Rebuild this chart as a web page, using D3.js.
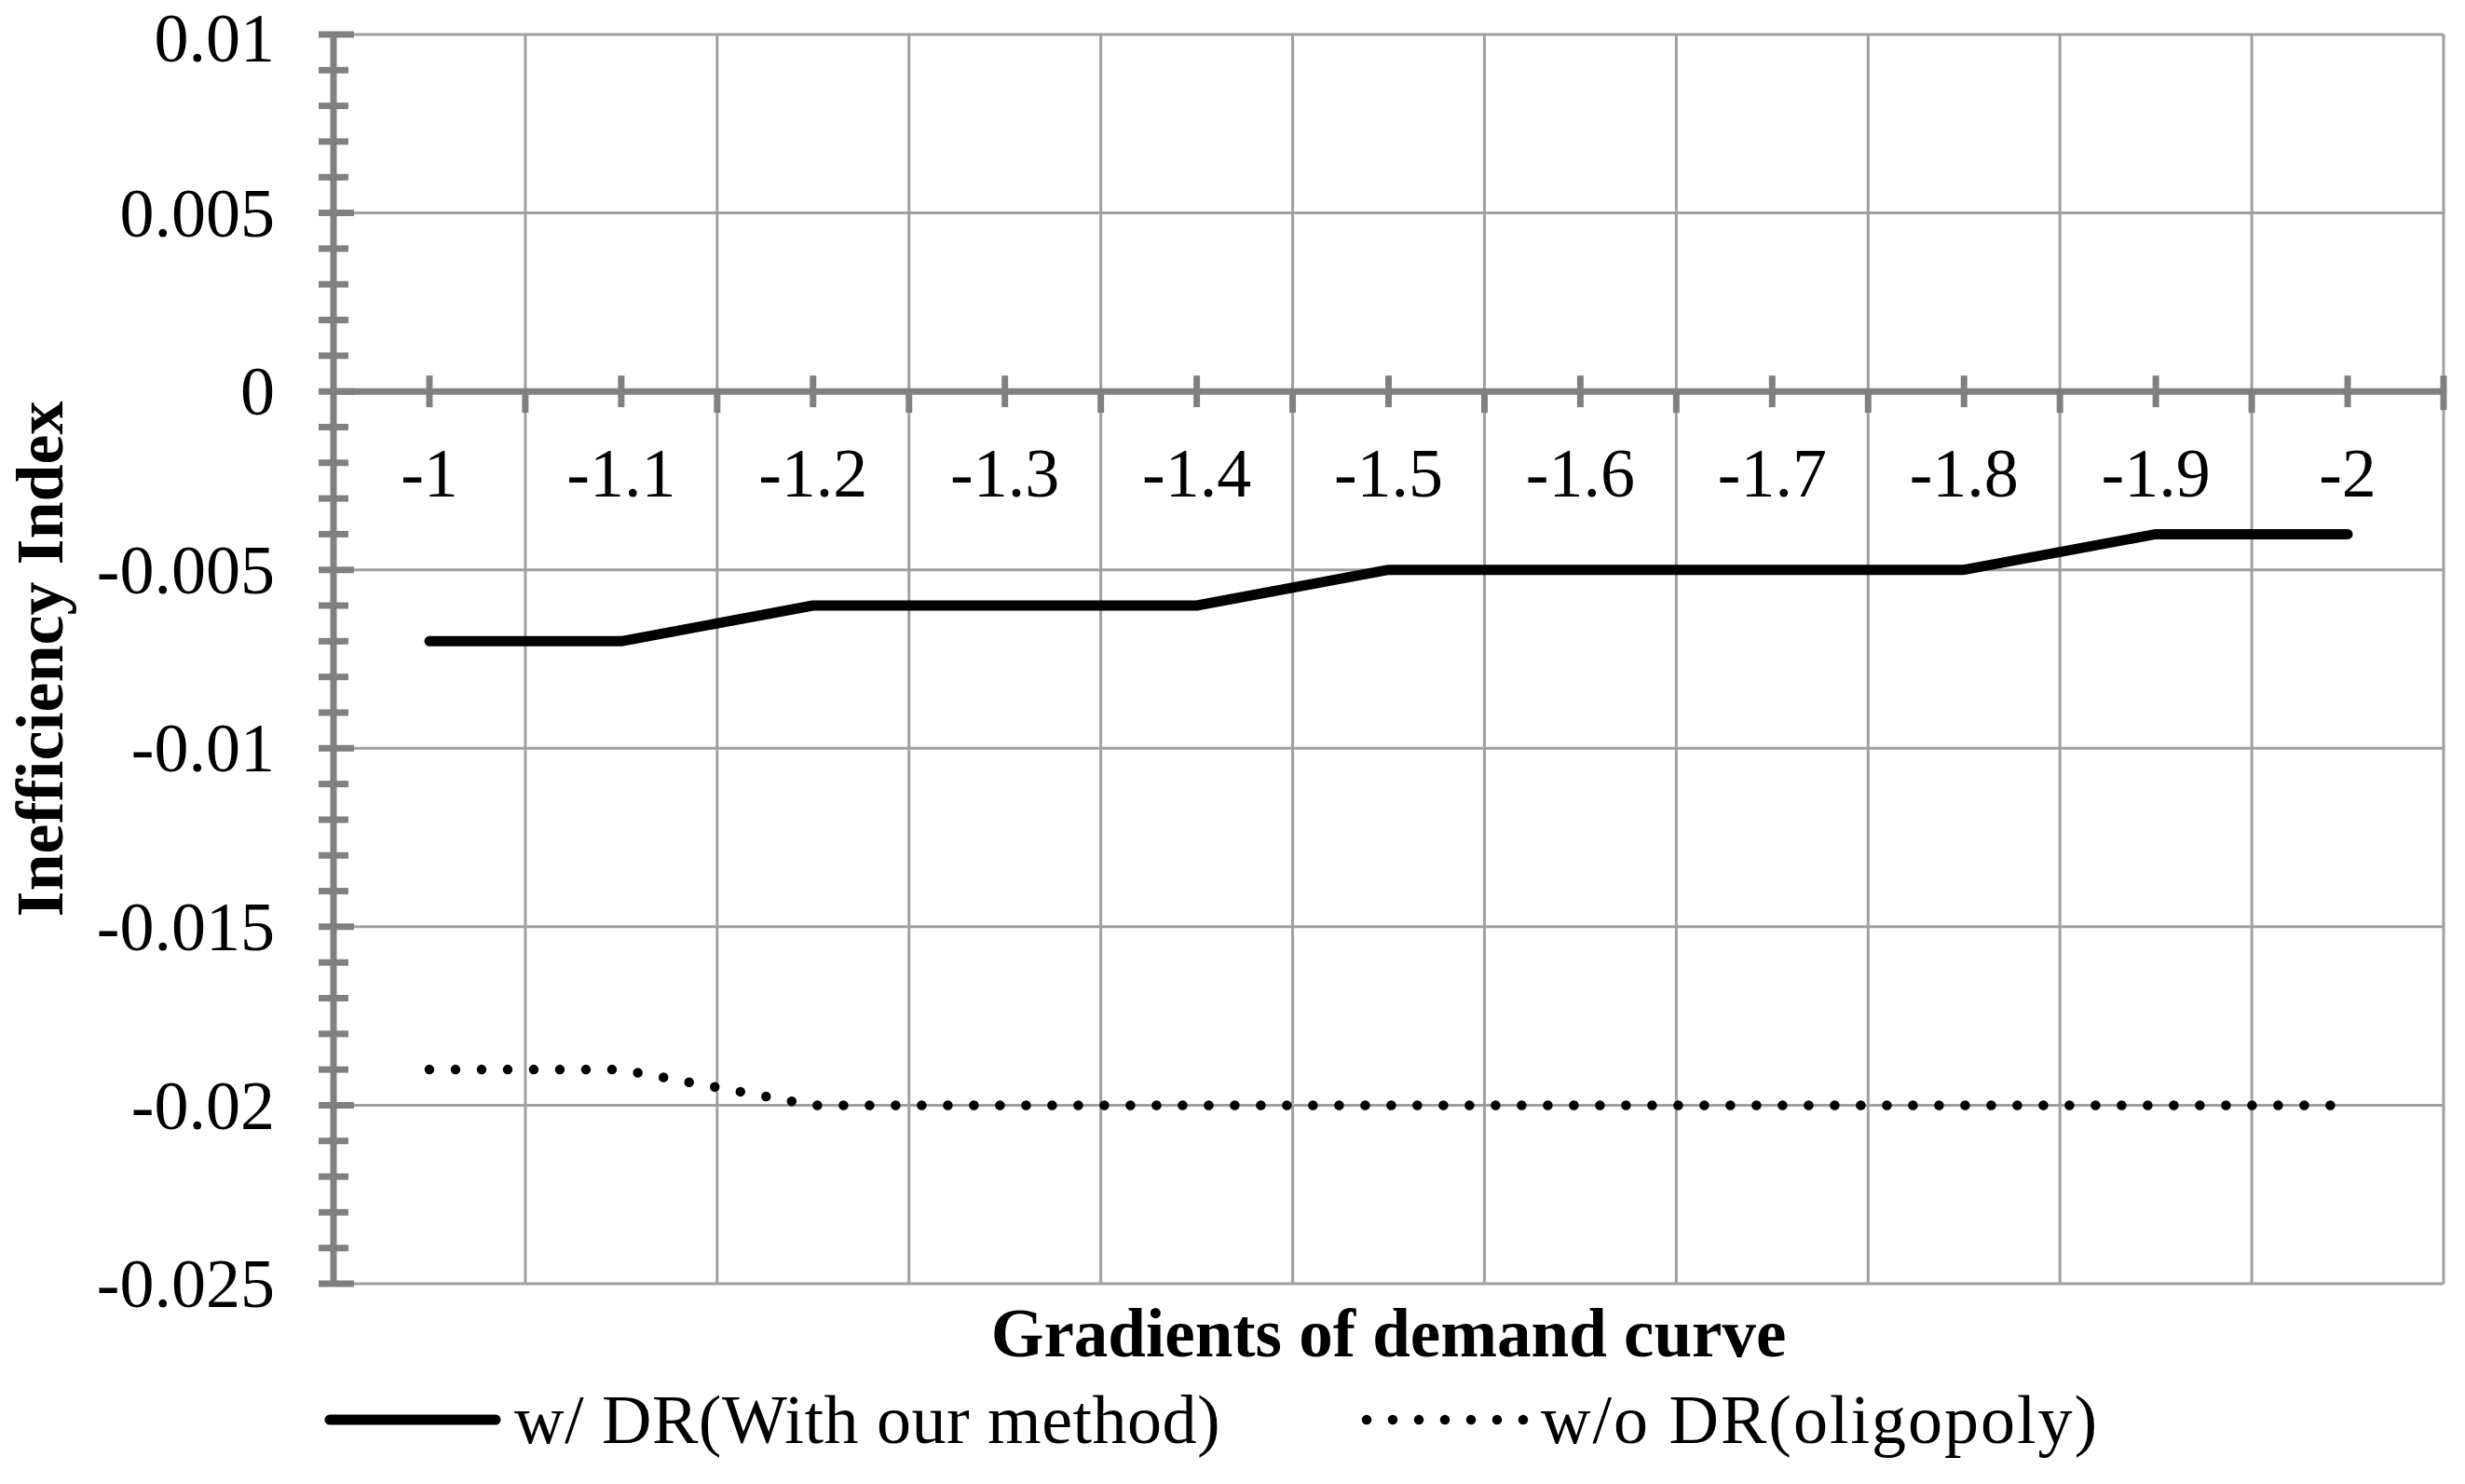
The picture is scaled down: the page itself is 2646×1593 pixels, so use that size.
<!DOCTYPE html>
<html><head><meta charset="utf-8">
<script src="https://cdn.jsdelivr.net/npm/d3@7"></script>
<style>body{margin:0;background:#fff}svg{display:block}</style>
</head><body>
<script>
const categories = ["-1","-1.1","-1.2","-1.3","-1.4","-1.5","-1.6","-1.7","-1.8","-1.9","-2"];
const withDR = [-0.007,-0.007,-0.006,-0.006,-0.006,-0.005,-0.005,-0.005,-0.005,-0.004,-0.004];
const withoutDR = [-0.019,-0.019,-0.02,-0.02,-0.02,-0.02,-0.02,-0.02,-0.02,-0.02,-0.02];
const yTicks = [0.01,0.005,0,-0.005,-0.01,-0.015,-0.02,-0.025];
const yTickLabels = ["0.01","0.005","0","-0.005","-0.01","-0.015","-0.02","-0.025"];
const seriesNames = ["w/ DR(With our method)","w/o DR(oligopoly)"];
const yTitle = "Inefficiency Index";
const xTitle = "Gradients of demand curve";

const W = 2646, H = 1593;
const L = 358, R = 2623, T = 37, B = 1378;
const FONT = "'Liberation Serif','Times New Roman',serif";
const AX = "#808080", GR = "#a0a0a0";

const svg = d3.select("body").append("svg").attr("width", W).attr("height", H);
const x = d3.scaleBand().domain(categories).range([L, R]).padding(0);
const y = d3.scaleLinear().domain([-0.025, 0.01]).range([B, T]);
const cx = c => x(c) + x.bandwidth() / 2;

// horizontal gridlines
svg.append("g").selectAll("line").data(yTicks.filter(v => v !== 0)).join("line")
  .attr("x1", L).attr("x2", R).attr("y1", d => y(d)).attr("y2", d => y(d))
  .attr("stroke", GR).attr("stroke-width", 3);
// vertical gridlines at category boundaries
const bounds = categories.map(c => x(c) + x.bandwidth()).filter(v => v > L);
svg.append("g").selectAll("line").data(bounds).join("line")
  .attr("x1", d => d).attr("x2", d => d).attr("y1", T).attr("y2", B)
  .attr("stroke", GR).attr("stroke-width", 3);

// y axis minor ticks
const minor = d3.range(-25, 11).map(i => i / 1000);
svg.append("g").selectAll("line").data(minor).join("line")
  .attr("x1", L - 16).attr("x2", d => (Math.round(d * 1000) % 5 === 0) ? L + 22 : L + 16)
  .attr("y1", d => y(d)).attr("y2", d => y(d))
  .attr("stroke", AX).attr("stroke-width", 7);
// y axis line
svg.append("line").attr("x1", L).attr("x2", L).attr("y1", T - 3).attr("y2", B + 3)
  .attr("stroke", AX).attr("stroke-width", 7);

// x axis at zero
const y0 = y(0);
svg.append("line").attr("x1", L).attr("x2", R + 3).attr("y1", y0).attr("y2", y0)
  .attr("stroke", AX).attr("stroke-width", 7);
svg.append("g").selectAll("line").data(categories).join("line")
  .attr("x1", d => cx(d)).attr("x2", d => cx(d)).attr("y1", y0 - 17).attr("y2", y0 + 17)
  .attr("stroke", AX).attr("stroke-width", 7);
svg.append("g").selectAll("line").data(bounds).join("line")
  .attr("x1", d => d).attr("x2", d => d).attr("y1", y0).attr("y2", d => d >= R - 1 ? y0 + 20 : y0 + 23)
  .attr("stroke", AX).attr("stroke-width", 7);
svg.append("line").attr("x1", R).attr("x2", R).attr("y1", y0 - 17).attr("y2", y0)
  .attr("stroke", AX).attr("stroke-width", 7);

// y tick labels
svg.append("g").selectAll("text").data(yTicks).join("text")
  .attr("x", 295).attr("y", (d, i) => y(d) + (i === 0 ? 4 : 0)).attr("dy", "0.34em")
  .attr("text-anchor", "end").attr("font-family", FONT).attr("font-size", 74)
  .text((d, i) => yTickLabels[i]);
// x tick labels
svg.append("g").selectAll("text").data(categories).join("text")
  .attr("x", d => cx(d)).attr("y", y0 + 113)
  .attr("text-anchor", "middle").attr("font-family", FONT).attr("font-size", 74)
  .text(d => d);

// series
const line = d3.line().x((d, i) => cx(categories[i])).y(d => y(d));
svg.append("path").datum(withDR).attr("d", line).attr("fill", "none")
  .attr("stroke", "#000").attr("stroke-width", 11).attr("stroke-linecap", "round").attr("stroke-linejoin", "round");
svg.append("path").datum(withoutDR).attr("d", line).attr("fill", "none")
  .attr("stroke", "#000").attr("stroke-width", 10.5).attr("stroke-linecap", "round")
  .attr("stroke-dasharray", "0 28");

// titles
svg.append("text").attr("transform", `translate(${67},${(T + B) / 2}) rotate(-90)`)
  .attr("text-anchor", "middle").attr("font-family", FONT).attr("font-weight", "bold").attr("font-size", 72)
  .text(yTitle);
svg.append("text").attr("x", (L + R) / 2).attr("y", 1456)
  .attr("text-anchor", "middle").attr("font-family", FONT).attr("font-weight", "bold").attr("font-size", 73)
  .text(xTitle);

// legend
const ly = 1524;
svg.append("line").attr("x1", 354).attr("x2", 532).attr("y1", ly).attr("y2", ly)
  .attr("stroke", "#000").attr("stroke-width", 11).attr("stroke-linecap", "round");
svg.append("text").attr("x", 552).attr("y", ly + 25).attr("font-family", FONT).attr("font-size", 74)
  .attr("letter-spacing", 0.5).text(seriesNames[0]);
svg.append("line").attr("x1", 1467).attr("x2", 1640).attr("y1", ly).attr("y2", ly)
  .attr("stroke", "#000").attr("stroke-width", 10.5).attr("stroke-linecap", "round").attr("stroke-dasharray", "0 28");
svg.append("text").attr("x", 1654).attr("y", ly + 25).attr("font-family", FONT).attr("font-size", 74)
  .attr("letter-spacing", 2).text(seriesNames[1]);
</script>
</body></html>
